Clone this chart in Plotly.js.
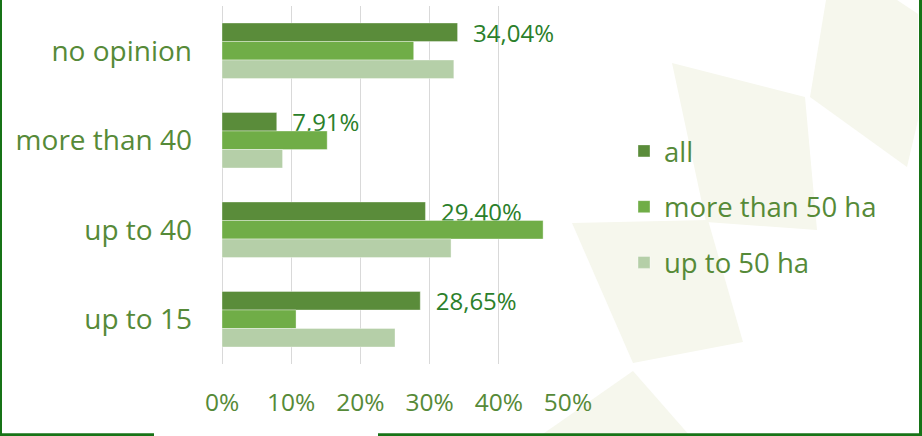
<!DOCTYPE html>
<html>
<head>
<meta charset="utf-8">
<script src="https://cdn.plot.ly/plotly-3.0.1.min.js"></script>
<style>
html,body{margin:0;padding:0;background:#fff;}
#chart{width:922px;height:436px;}
</style>
</head>
<body>
<div id="chart"></div>
<script>
// ---- data ----
const categories = ["no opinion", "more than 40", "up to 40", "up to 15"];
const seriesNames = ["all", "more than 50 ha", "up to 50 ha"];
const allValues = [0.3404, 0.0791, 0.2940, 0.2865];
const moreThan50Values = [0.277, 0.152, 0.464, 0.107];
const upTo50Values = [0.335, 0.0875, 0.331, 0.250];
const xTickValues = [0, 0.1, 0.2, 0.3, 0.4, 0.5];

// ---- styling ----
const W = 922, H = 436;
const M = {l: 222, r: 354, t: 6, b: 72};
const PW = W - M.l - M.r, PH = H - M.t - M.b;
const px = x => (x - M.l) / PW;
const py = y => 1 - (y - M.t) / PH;

const colors = ["#5a8c3a", "#70ad47", "#b5cfa8"];
const axisText = "#568a38";
const labelText = "#2b7f2b";
const FONT = "Open Sans, sans-serif";

const seriesValues = [allValues, moreThan50Values, upTo50Values];
const traces = seriesValues.map((vals, i) => ({
  type: "bar",
  orientation: "h",
  name: seriesNames[i],
  legendgroup: "g" + i,
  y: categories,
  x: vals,
  marker: {color: colors[i], line: {width: 0.6, color: "rgba(255,255,255,0.6)"}},
  text: i === 0 ? vals : undefined,
  texttemplate: i === 0 ? "\u00a0\u00a0%{x:.2%}" : undefined,
  textposition: i === 0 ? "outside" : "none",
  constraintext: "none",
  cliponaxis: false,
  textfont: {family: FONT, size: 24, color: labelText},
  hoverinfo: "skip"
}));

function poly(pts) {
  let d = "M " + pts.map(p => px(p[0]) + "," + py(p[1])).join(" L ") + " Z";
  return {type: "path", xref: "paper", yref: "paper", path: d,
          fillcolor: "#f6f7ed", line: {width: 0}, layer: "below"};
}
function hline(x0, x1, y, w) {
  return {type: "line", xref: "paper", yref: "paper",
          x0: px(x0), x1: px(x1), y0: py(y), y1: py(y),
          line: {color: "#177317", width: w}, layer: "above"};
}
function vline(x, y0, y1, w) {
  return {type: "line", xref: "paper", yref: "paper",
          x0: px(x), x1: px(x), y0: py(y0), y1: py(y1),
          line: {color: "#177317", width: w}, layer: "above"};
}

const shapes = [
  poly([[826, 0], [897, 0], [918, 14], [918, 120], [907, 167], [810, 97]]),
  poly([[672, 63], [805, 97], [817, 230], [706, 222]]),
  poly([[572, 223], [708, 220], [743, 342], [633, 363]]),
  poly([[633, 371], [690, 436], [540, 436]]),
  vline(1, 0, 436, 2),
  vline(920.5, 0, 436, 3),
  hline(0, 154, 434.7, 3),
  hline(378, 922, 434.7, 3)
];

const layout = {
  width: W, height: H,
  margin: M,
  paper_bgcolor: "#ffffff",
  plot_bgcolor: "rgba(0,0,0,0)",
  separators: ",.",
  barmode: "group",
  bargap: 0.38,
  bargroupgap: 0,
  font: {family: FONT, color: axisText},
  showlegend: true,
  legend: {
    x: px(624), xanchor: "left",
    y: py(126.5), yanchor: "top",
    traceorder: "grouped",
    tracegroupgap: 17,
    font: {family: FONT, size: 27.5, color: axisText},
    bgcolor: "rgba(0,0,0,0)",
    borderwidth: 0
  },
  xaxis: {
    range: [0, 0.5],
    tickvals: xTickValues,
    tickformat: ".0%",
    showgrid: true,
    gridcolor: "#d9d9d9",
    gridwidth: 1,
    zeroline: true,
    zerolinecolor: "#d9d9d9",
    zerolinewidth: 1,
    showline: false,
    ticks: "",
    ticklabelstandoff: 21,
    tickfont: {family: FONT, size: 24.5, color: axisText},
    fixedrange: true
  },
  yaxis: {
    type: "category",
    categoryorder: "array",
    categoryarray: categories,
    autorange: "reversed",
    showgrid: false,
    zeroline: false,
    showline: false,
    ticks: "",
    ticklabelstandoff: 29,
    tickfont: {family: FONT, size: 28, color: axisText},
    fixedrange: true
  },
  shapes: shapes
};

Plotly.newPlot("chart", traces, layout, {displayModeBar: false, staticPlot: true});
</script>
</body>
</html>
